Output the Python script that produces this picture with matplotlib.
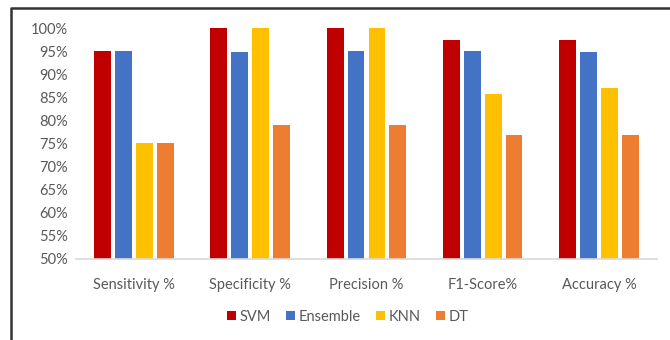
import numpy as np
import matplotlib.pyplot as plt
from matplotlib.lines import Line2D
from matplotlib.ticker import FuncFormatter

categories = ["Sensitivity %", "Specificity %", "Precision %", "F1-Score%", "Accuracy %"]
models = ["SVM", "Ensemble", "KNN", "DT"]
svm = [95, 100, 100, 97.5, 97.5]
ensemble = [95, 94.7, 95, 95, 94.9]
knn = [75, 100, 100, 85.7, 87.1]
dt = [75, 79, 79, 76.9, 76.9]
yticks = list(range(50, 101, 5))

colors = ["#C00000", "#4472C4", "#FFC000", "#ED7D31"]
series = [svm, ensemble, knn, dt]

plt.rcParams["font.family"] = ["Lato", "DejaVu Sans"]

fig = plt.figure(figsize=(6.7, 3.4), dpi=100)
ax = fig.add_axes([0.1134, 0.239, 0.8672, 0.6786])

x = np.arange(len(categories))
width = 0.145
step = 0.18
for i, (name, vals, c) in enumerate(zip(models, series, colors)):
    ax.bar(x + (i - 1.5) * step, vals, width, color=c, label=name)

ax.set_ylim(50, 100)
ax.set_xlim(-0.5, len(categories) - 0.5)
ax.set_yticks(yticks)
ax.yaxis.set_major_formatter(FuncFormatter(lambda v, p: f"{v:.0f}%"))
ax.set_xticks(x)
ax.set_xticklabels(categories)
ax.tick_params(axis="both", length=0, labelsize=10.5, colors="#595959")
ax.tick_params(axis="x", pad=14)
ax.tick_params(axis="y", pad=6)
for s in ["top", "right", "left"]:
    ax.spines[s].set_visible(False)
ax.spines["bottom"].set_color("#D9D9D9")
ax.spines["bottom"].set_linewidth(1.2)

leg = fig.legend(loc="center", bbox_to_anchor=(0.519, 1 - 317 / 340), ncol=4,
                 frameon=False, fontsize=10.5, handlelength=0.6, handleheight=0.6,
                 handletextpad=0.25, columnspacing=1.05)
for t in leg.get_texts():
    t.set_color("#595959")

# outer frame, cut off on the right and bottom
fx = 10.5 / 670
fy = 1 - 7.5 / 340
fig.add_artist(Line2D([fx, fx, 1.01], [-0.01, fy, fy], transform=fig.transFigure,
                      color="#333333", linewidth=1.8))

fig.savefig("out.png", dpi=100)
